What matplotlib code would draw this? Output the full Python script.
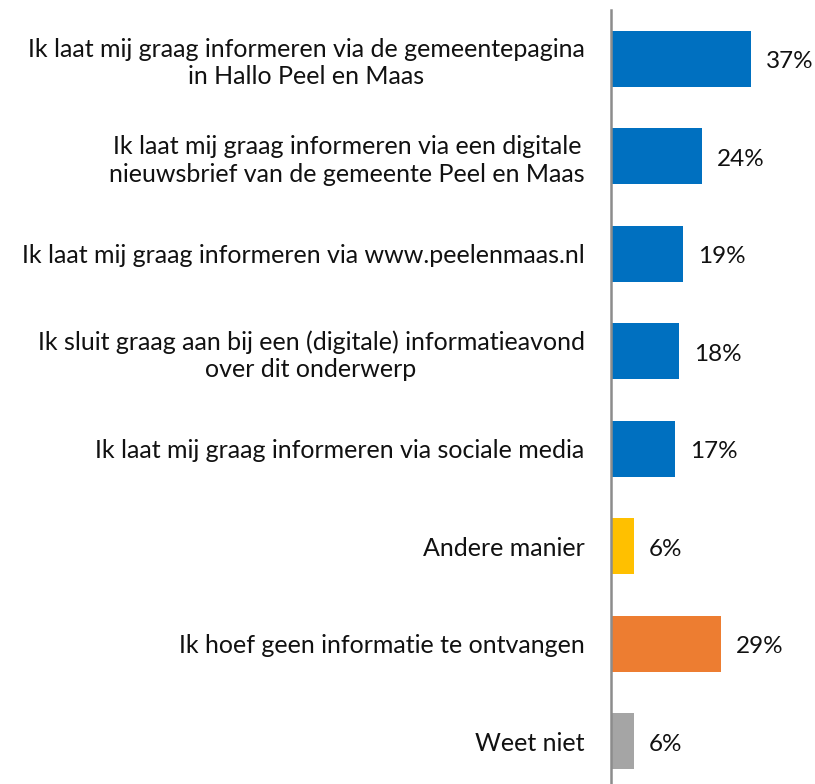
import matplotlib.pyplot as plt

# ----------------- Data -----------------
labels = [
    "Ik laat mij graag informeren via de gemeentepagina\nin Hallo Peel en Maas",
    "Ik laat mij graag informeren via een digitale\nnieuwsbrief van de gemeente Peel en Maas",
    "Ik laat mij graag informeren via www.peelenmaas.nl",
    "Ik sluit graag aan bij een (digitale) informatieavond\nover dit onderwerp",
    "Ik laat mij graag informeren via sociale media",
    "Andere manier",
    "Ik hoef geen informatie te ontvangen",
    "Weet niet",
]
values = [37, 24, 19, 18, 17, 6, 29, 6]
colors = ["#0070C0"] * 5 + ["#FFC000", "#ED7D31", "#A5A5A5"]

plt.rcParams["font.family"] = ["Lato", "DejaVu Sans"]

# ----------------- Plot -----------------
fig = plt.figure(figsize=(8.15, 7.84), dpi=100)
ax = fig.add_axes([611 / 815, -6 / 784, 204 / 815, 780 / 784])

y = list(range(len(labels)))
ax.barh(y, values, height=0.575, color=colors)

for yi, v in zip(y, values):
    ax.annotate(f"{v}%", (v, yi), xytext=(11, -2), textcoords="offset points",
                va="center", ha="left", fontsize=17.5, color="#111111")

ax.set_xlim(0, 54)
ax.set_ylim(len(labels) - 0.5, -0.5)
ax.set_yticks(y)
ax.set_yticklabels(labels, fontsize=18, color="#111111", linespacing=1.25)
for t in ax.get_yticklabels():
    t.set_multialignment("center")
    t.set_y(t.get_position()[1])
ax.tick_params(axis="y", length=0, pad=19)
ax.set_xticks([])

for s in ["top", "right", "bottom"]:
    ax.spines[s].set_visible(False)
ax.spines["left"].set_color("#8c8c8c")
ax.spines["left"].set_linewidth(1.8)

fig.savefig("out.png", dpi=100)
